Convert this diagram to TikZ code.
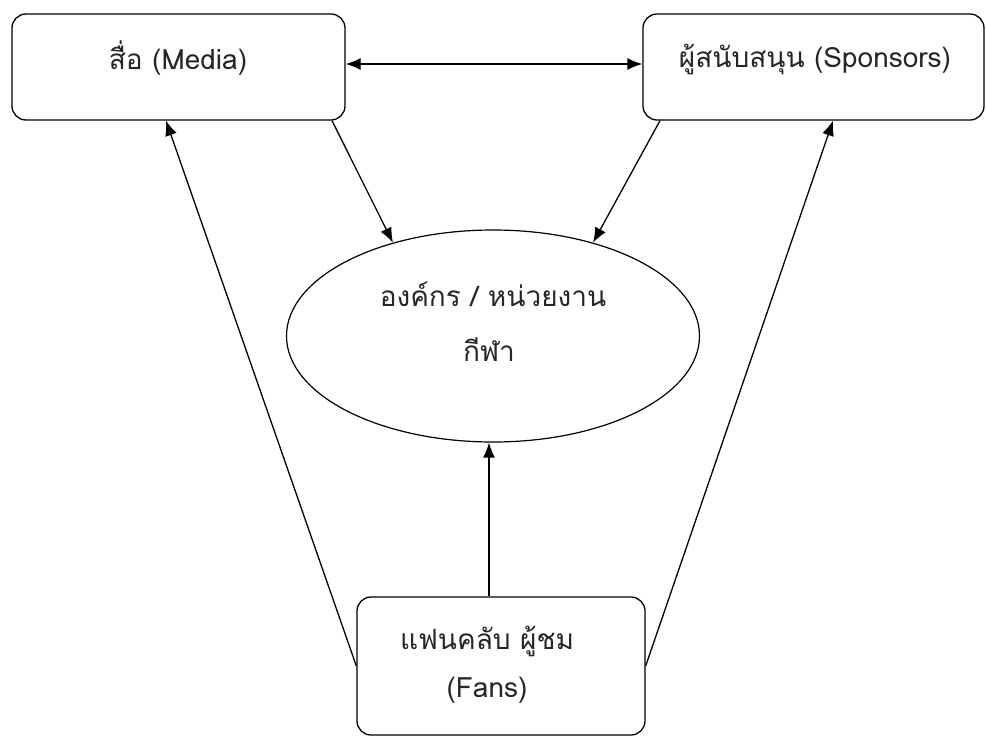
\documentclass[tikz,border=0pt]{standalone}
\usepackage{fontspec}
\setmainfont[Script=Thai]{Loma}
\usetikzlibrary{shapes.geometric,arrows.meta}
\begin{document}
\begin{tikzpicture}[x=1pt,y=-1pt,
  box/.style={draw,line width=1.3pt,rounded corners=14pt,inner sep=0pt},
  lbl/.style={font=\fontsize{28}{32}\selectfont,text=black!85,inner sep=0pt,anchor=center},
  arr/.style={line width=1.3pt,-{Latex[length=15pt,width=12pt]}}]
\useasboundingbox (0,0) rectangle (986,737);
\node[box,minimum width=333pt,minimum height=106pt] (media) at (178.5,67) {};
\node[box,minimum width=341pt,minimum height=106pt] (spons) at (813.5,67) {};
\node[draw,line width=1.2pt,ellipse,minimum width=413pt,minimum height=212pt,inner sep=0pt] (org) at (493,336) {};
\node[box,minimum width=288pt,minimum height=138pt] (fans) at (501,666) {};
\node[lbl] (tmedia) at (178,58) {สื่อ (Media)};
\node[lbl] (tspons) at (815,59) {ผู้สนับสนุน (Sponsors)};
\node[lbl] (torg1) at (493,294) {องค์กร / หน่วยงาน};
\node[lbl] (torg2) at (489,350) {กีฬา};
\node[lbl] (tfans1) at (487,641) {แฟนคลับ ผู้ชม};
\node[lbl] (tfans2) at (487,690) {(Fans)};
\draw[arr,{Latex[length=15pt,width=12pt]}-{Latex[length=15pt,width=12pt]}] ([yshift=3pt]media.east) -- ([yshift=3pt]spons.west);
\draw[arr] ([xshift=153.5pt]media.south) -- (org.137.5);
\draw[arr] ([xshift=-153.5pt]spons.south) -- (org.43.5);
\draw[arr] ([xshift=-12pt]fans.north) -- ([xshift=-4pt]org.south);
\draw[arr] (fans.west) -- ([xshift=-12.5pt]media.south);
\draw[arr] (fans.east) -- ([xshift=19.5pt]spons.south);
\end{tikzpicture}
\end{document}
